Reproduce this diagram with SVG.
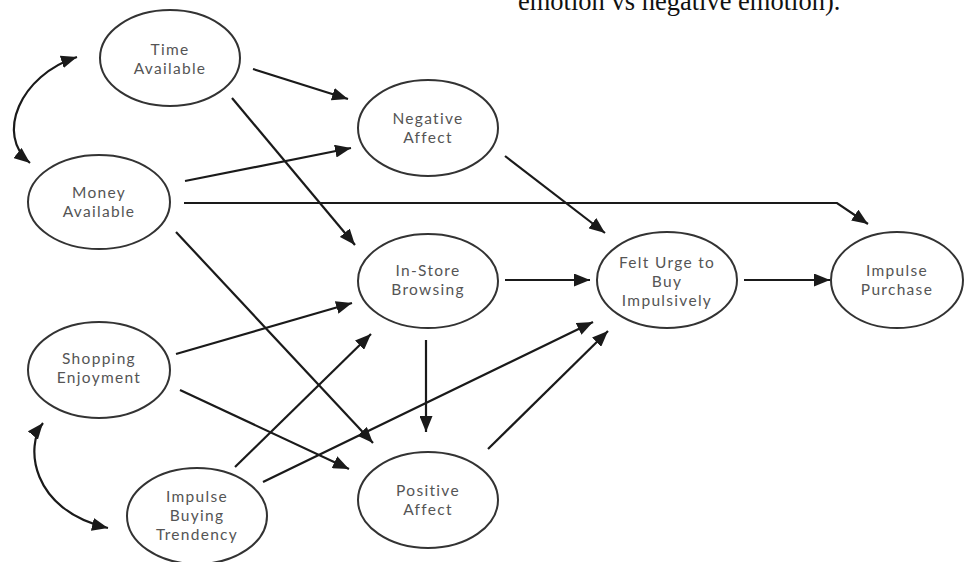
<svg xmlns="http://www.w3.org/2000/svg" width="965" height="562" viewBox="0 0 965 562">
<defs>
<marker id="ah" markerUnits="userSpaceOnUse" markerWidth="17" markerHeight="13" refX="16" refY="6.5" orient="auto-start-reverse"><path d="M0,0 L16,6.5 L0,13 Z" fill="#1a1a1a"/></marker>
<style>
.n ellipse{fill:#fff;stroke:#333;stroke-width:2}
.n text{font-family:Lato,"Open Sans","Liberation Sans",sans-serif;font-size:15.5px;letter-spacing:1.3px;fill:#555;text-anchor:middle}
#edges path,#edges line{stroke:#1a1a1a;stroke-width:2.2;fill:none;marker-end:url(#ah)}
#edges .dbl{marker-start:url(#ah)}
.cap{font-family:"Liberation Serif",serif;font-size:26.5px;fill:#111}
</style>
</defs>
<rect width="965" height="562" fill="#fff"/>
<text class="cap" x="518" y="10">emotion vs negative emotion).</text>
<g id="edges">
<line x1="253" y1="69" x2="348" y2="99"/>
<line x1="232" y1="98" x2="355" y2="245"/>
<line x1="185" y1="181" x2="351" y2="148"/>
<path d="M184,203 L837,203 L868,224"/>
<line x1="176" y1="232" x2="373" y2="443"/>
<line x1="505" y1="156" x2="605" y2="233"/>
<line x1="505" y1="280" x2="590" y2="280"/>
<line x1="744" y1="280" x2="830" y2="280"/>
<line x1="176" y1="354" x2="352" y2="303"/>
<line x1="180" y1="390" x2="349" y2="469"/>
<line x1="235" y1="467" x2="371" y2="334"/>
<line x1="263" y1="482" x2="593" y2="322"/>
<line x1="426" y1="340" x2="426" y2="432"/>
<line x1="488" y1="449" x2="608" y2="331"/>
<path class="dbl" d="M77,57 C20,75 -5,135 30,163"/>
<path class="dbl" d="M43,423 C25,445 30,510 108,528"/>
</g>
<g id="time" class="n"><ellipse cx="170" cy="58" rx="70" ry="48"/><text x="170" y="55">Time</text><text x="170" y="74">Available</text></g>
<g id="negative" class="n"><ellipse cx="428" cy="128" rx="70" ry="48"/><text x="428" y="124">Negative</text><text x="428" y="143">Affect</text></g>
<g id="money" class="n"><ellipse cx="99" cy="202" rx="71" ry="47"/><text x="99" y="198">Money</text><text x="99" y="217">Available</text></g>
<g id="instore" class="n"><ellipse cx="428" cy="281" rx="70" ry="47"/><text x="428" y="276">In-Store</text><text x="428" y="295">Browsing</text></g>
<g id="urge" class="n"><ellipse cx="667" cy="280" rx="70" ry="48"/><text x="667" y="268">Felt Urge to</text><text x="667" y="287">Buy</text><text x="667" y="306">Impulsively</text></g>
<g id="purchase" class="n"><ellipse cx="897" cy="280" rx="66" ry="48"/><text x="897" y="276">Impulse</text><text x="897" y="295">Purchase</text></g>
<g id="shopping" class="n"><ellipse cx="99" cy="370" rx="71" ry="48"/><text x="99" y="364">Shopping</text><text x="99" y="383">Enjoyment</text></g>
<g id="tendency" class="n"><ellipse cx="197" cy="516" rx="70" ry="48"/><text x="197" y="502">Impulse</text><text x="197" y="521">Buying</text><text x="197" y="540">Trendency</text></g>
<g id="positive" class="n"><ellipse cx="428" cy="500" rx="70" ry="48"/><text x="428" y="496">Positive</text><text x="428" y="515">Affect</text></g>
</svg>
